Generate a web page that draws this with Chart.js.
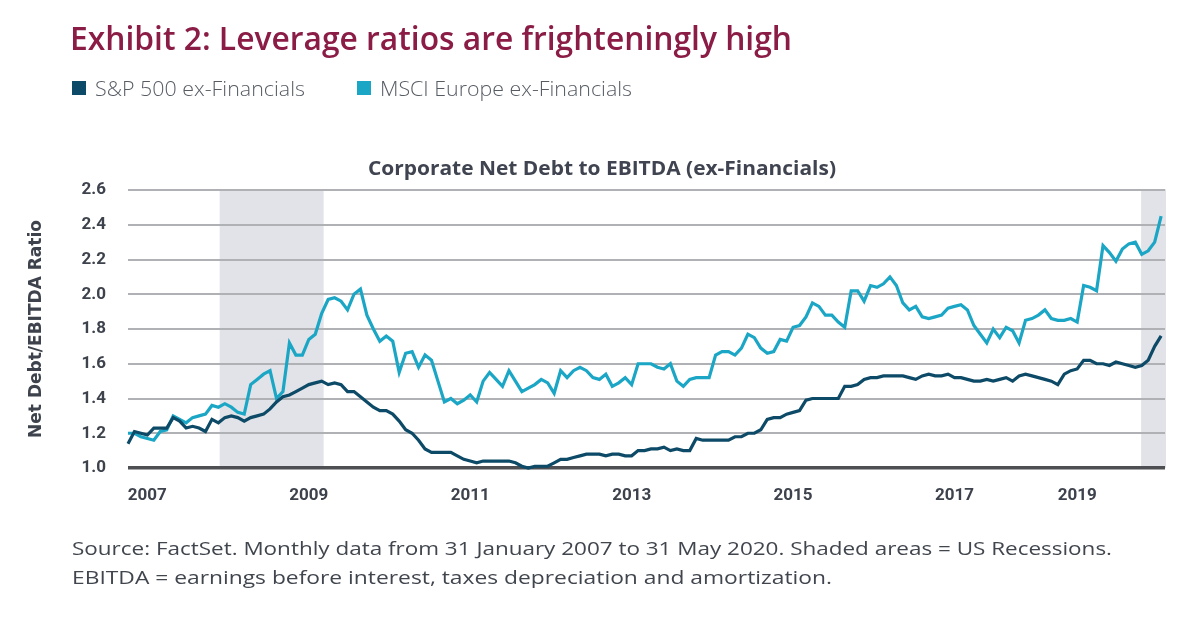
<!DOCTYPE html>
<html><head><meta charset="utf-8">
<script src="https://cdn.jsdelivr.net/npm/chart.js@4.4.1/dist/chart.umd.min.js"></script>
<style>
html,body{margin:0;padding:0;background:#fff;}
#wrap{position:relative;width:1200px;height:638px;overflow:hidden;background:#fff;}
canvas{position:absolute;left:0;top:0;}
.t{position:absolute;white-space:nowrap;transform-origin:0 0;}
.sq{position:absolute;width:14px;height:14px;}
</style></head><body>
<div id="wrap">
<canvas id="c" width="1200" height="638"></canvas>
<div class="t" data-w="722" style="left:70px;top:16px;font:600 32px 'Open Sans';color:#8a1c46;line-height:44px">Exhibit 2: Leverage ratios are frighteningly high</div>
<div id="leg"></div>
<div class="t" id="ctitle" data-w="468" style="left:368px;top:155px;font:bold 20px 'Open Sans';color:#3f4450;line-height:26px"></div>
<div class="t" data-w="1040" style="left:72px;top:535px;font:400 19px 'Open Sans';color:#41464e;line-height:26px">Source: FactSet. Monthly data from 31 January 2007 to 31 May 2020. Shaded areas = US Recessions.</div>
<div class="t" data-w="760" style="left:72px;top:564px;font:400 19px 'Open Sans';color:#41464e;line-height:26px">EBITDA = earnings before interest, taxes depreciation and amortization.</div>
</div>
<script>
// ---- data (monthly, Jan 2007 = index 0 ... May 2020 = index 160) ----
const seriesNames = ['S&P 500 ex-Financials', 'MSCI Europe ex-Financials'];
const chartTitle = 'Corporate Net Debt to EBITDA (ex-Financials)';
const yTitle = 'Net Debt/EBITDA Ratio';
const tickMonths = [3, 28, 53, 78, 103, 128, 147];
const tickLabels = ['2007', '2009', '2011', '2013', '2015', '2017', '2019'];
const yTicks = [1.0, 1.2, 1.4, 1.6, 1.8, 2.0, 2.2, 2.4, 2.6];
const recessionStart = [14.2, 156.9];
const recessionEnd = [30.3, 161];
const spx = [
1.14,1.21,1.20,1.19,1.23,1.23,1.23,1.29,1.27,1.23,
1.24,1.23,1.21,1.28,1.26,1.29,1.30,1.29,1.27,1.29,
1.30,1.31,1.34,1.38,1.41,1.42,1.44,1.46,1.48,1.49,
1.50,1.48,1.49,1.48,1.44,1.44,1.41,1.38,1.35,1.33,
1.33,1.31,1.27,1.22,1.20,1.16,1.11,1.09,1.09,1.09,
1.09,1.07,1.05,1.04,1.03,1.04,1.04,1.04,1.04,1.04,
1.03,1.01,1.00,1.01,1.01,1.01,1.03,1.05,1.05,1.06,
1.07,1.08,1.08,1.08,1.07,1.08,1.08,1.07,1.07,1.10,
1.10,1.11,1.11,1.12,1.10,1.11,1.10,1.10,1.17,1.16,
1.16,1.16,1.16,1.16,1.18,1.18,1.20,1.20,1.22,1.28,
1.29,1.29,1.31,1.32,1.33,1.39,1.40,1.40,1.40,1.40,
1.40,1.47,1.47,1.48,1.51,1.52,1.52,1.53,1.53,1.53,
1.53,1.52,1.51,1.53,1.54,1.53,1.53,1.54,1.52,1.52,
1.51,1.50,1.50,1.51,1.50,1.51,1.52,1.50,1.53,1.54,
1.53,1.52,1.51,1.50,1.48,1.54,1.56,1.57,1.62,1.62,
1.60,1.60,1.59,1.61,1.60,1.59,1.58,1.59,1.62,1.70,
1.76];
const msci = [
1.20,1.20,1.18,1.17,1.16,1.21,1.22,1.30,1.28,1.26,
1.29,1.30,1.31,1.36,1.35,1.37,1.35,1.32,1.31,1.48,
1.51,1.54,1.56,1.40,1.44,1.72,1.65,1.65,1.74,1.77,
1.89,1.97,1.98,1.96,1.91,2.00,2.03,1.88,1.80,1.73,
1.76,1.73,1.55,1.66,1.67,1.58,1.65,1.62,1.50,1.38,
1.40,1.37,1.39,1.42,1.38,1.50,1.55,1.51,1.47,1.56,
1.50,1.44,1.46,1.48,1.51,1.49,1.43,1.56,1.52,1.56,
1.58,1.56,1.52,1.51,1.54,1.47,1.49,1.52,1.48,1.60,
1.60,1.60,1.58,1.57,1.60,1.50,1.47,1.51,1.52,1.52,
1.52,1.65,1.67,1.67,1.65,1.69,1.77,1.75,1.69,1.66,
1.67,1.74,1.73,1.81,1.82,1.87,1.95,1.93,1.88,1.88,
1.84,1.81,2.02,2.02,1.96,2.05,2.04,2.06,2.10,2.05,
1.95,1.91,1.93,1.87,1.86,1.87,1.88,1.92,1.93,1.94,
1.91,1.82,1.77,1.72,1.80,1.75,1.81,1.79,1.72,1.85,
1.86,1.88,1.91,1.86,1.85,1.85,1.86,1.84,2.05,2.04,
2.02,2.28,2.24,2.19,2.26,2.29,2.30,2.23,2.25,2.30,
2.45];
const colors = ['#0d4a67', '#1ba6c5'];

// ---- legend + titles ----
const leg = document.getElementById('leg');
const legX = [72, 357];
seriesNames.forEach((n, i) => {
  const s = document.createElement('div'); s.className = 'sq';
  s.style.left = legX[i] + 'px'; s.style.top = '81px'; s.style.background = colors[i];
  leg.appendChild(s);
  const t = document.createElement('div'); t.className = 't';
  t.textContent = n; t.dataset.w = i === 0 ? 210 : 252;
  t.style.cssText += `left:${legX[i] + 23}px;top:74px;font:300 21px 'Open Sans';color:#575c64;line-height:28px;`;
  leg.appendChild(t);
});
document.getElementById('ctitle').textContent = chartTitle;

function fit() {
  document.querySelectorAll('.t').forEach(el => {
    el.style.transform = 'none';
    const w = el.getBoundingClientRect().width;
    const tw = +el.dataset.w;
    if (tw && w) el.style.transform = `scaleX(${tw / w})`;
  });
}
fit();
if (document.fonts) document.fonts.ready.then(fit);

// ---- recession shading ----
const recessionPlugin = {
  id: 'recessions',
  beforeDraw(chart) {
    const { ctx, chartArea: a, scales: { x } } = chart;
    ctx.save();
    ctx.fillStyle = '#e1e3e8';
    recessionStart.forEach((s, i) => {
      const x0 = x.getPixelForValue(s);
      const x1 = Math.min(x.getPixelForValue(recessionEnd[i]), a.right + 1);
      ctx.fillRect(x0, a.top - 1, x1 - x0, a.bottom - a.top + 1);
    });
    ctx.restore();
  }
};

const tickFont = { family: 'Roboto', size: 17, weight: 'bold' };
new Chart(document.getElementById('c'), {
  type: 'line',
  data: {
    datasets: [
      { label: seriesNames[0], data: spx.map((v, i) => ({ x: i, y: v })), borderColor: colors[0], borderWidth: 3.2, pointRadius: 0, tension: 0, clip: 6 },
      { label: seriesNames[1], data: msci.map((v, i) => ({ x: i, y: v })), borderColor: colors[1], borderWidth: 3.2, pointRadius: 0, tension: 0, clip: 6 }
    ]
  },
  options: {
    responsive: false, animation: false, devicePixelRatio: 1,
    layout: { padding: { top: 190, right: 35, bottom: 130, left: 0 } },
    plugins: { legend: { display: false }, tooltip: { enabled: false }, title: { display: false } },
    scales: {
      x: {
        type: 'linear', min: 0, max: 160.6,
        grid: { display: false, drawTicks: false }, border: { display: false },
        afterBuildTicks: s => { s.ticks = tickMonths.map(v => ({ value: v })); },
        afterFit: s => { s.height = 40; },
        ticks: { padding: 18, autoSkip: false, maxRotation: 0, font: tickFont, color: '#3d424c', callback: (v, i) => tickLabels[i] }
      },
      y: {
        min: 1, max: 2.6,
        afterBuildTicks: s => { s.ticks = yTicks.map(v => ({ value: v })); },
        afterFit: s => { s.width = 128; },
        ticks: { padding: 22, font: tickFont, color: '#3d424c', callback: v => Number(v).toFixed(1) },
        grid: {
          drawTicks: false,
          color: c => (c.tick && c.tick.value === 1) ? '#4d4f52' : '#b0b1b4',
          lineWidth: c => (c.tick && c.tick.value === 1) ? 3.5 : 2
        },
        border: { display: false },
        title: { display: true, text: yTitle, font: { family: 'DejaVu Sans', size: 17, weight: 'bold' }, color: '#3d424c', padding: { top: 26, bottom: 0 } }
      }
    }
  },
  plugins: [recessionPlugin]
});
</script>
</body></html>
